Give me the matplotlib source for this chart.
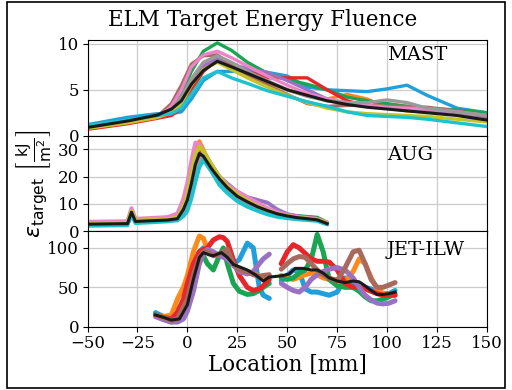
import matplotlib
matplotlib.use("Agg")
import matplotlib.pyplot as plt
from matplotlib.patches import Rectangle
import numpy as np

plt.rcParams["font.family"] = ["DejaVu Serif"]
plt.rcParams["mathtext.fontset"] = "dejavusans"

COLORS = ["#1f9fdb", "#ff8a1c", "#1aa552", "#e8262a", "#9a72c4",
          "#a9695e", "#ec84c8", "#9a9a9a", "#c4c426", "#1cc3cf"]

# ---------------- MAST ----------------
mast_x = [-50, -30, -15, -8, -3, 2, 8, 15, 22, 30, 40, 50, 60, 70, 80, 90, 100, 110, 120, 135, 150]
mast_series = [
    [1.2, 2.0, 2.4, 2.4, 2.6, 4.0, 6.0, 7.0, 7.0, 7.0, 6.9, 6.5, 5.3, 5.0, 4.9, 4.8, 5.1, 5.5, 4.4, 3.0, 2.5],  # blue
    [0.9, 1.5, 2.0, 2.6, 4.0, 6.0, 7.5, 8.3, 7.5, 6.7, 5.8, 5.0, 4.3, 4.0, 4.5, 4.0, 3.0, 2.7, 2.6, 2.4, 2.0],  # orange
    [1.0, 1.6, 2.2, 3.0, 4.5, 7.0, 9.2, 10.1, 9.3, 8.0, 6.8, 6.1, 5.6, 5.0, 4.2, 3.8, 3.5, 3.2, 3.0, 2.8, 2.5],  # green
    [0.7, 1.3, 1.9, 2.2, 3.0, 5.0, 7.0, 8.3, 7.8, 7.0, 6.3, 6.3, 6.3, 5.0, 3.8, 3.2, 3.0, 2.9, 2.7, 2.4, 2.1],  # red
    [1.0, 1.6, 2.1, 2.6, 3.8, 6.0, 7.6, 8.4, 7.8, 7.3, 6.9, 6.0, 5.0, 4.0, 3.5, 3.2, 3.0, 2.8, 2.7, 2.4, 2.0],  # purple
    [0.9, 1.5, 2.1, 3.5, 5.5, 7.8, 8.7, 8.8, 7.7, 6.5, 5.5, 4.5, 3.5, 3.2, 3.3, 3.3, 3.2, 3.2, 3.1, 2.7, 2.1],  # brown
    [0.9, 1.5, 2.0, 3.2, 5.0, 7.5, 8.8, 9.2, 8.5, 7.6, 6.5, 5.5, 4.6, 4.0, 3.6, 3.3, 3.1, 3.0, 2.9, 2.6, 2.2],  # pink
    [1.0, 1.6, 2.1, 2.8, 4.2, 6.2, 8.0, 8.7, 8.0, 7.0, 6.0, 5.0, 4.3, 3.8, 3.6, 3.6, 3.9, 3.6, 3.0, 2.6, 2.2],  # gray
    [0.8, 1.4, 2.0, 2.5, 3.5, 5.5, 7.2, 8.0, 7.2, 6.3, 5.3, 4.4, 3.6, 3.0, 2.6, 2.4, 2.3, 2.2, 2.1, 1.8, 1.5],  # olive
    [1.1, 1.7, 2.2, 2.4, 3.0, 4.5, 6.3, 7.0, 6.3, 5.7, 4.9, 4.3, 3.7, 3.2, 2.6, 2.2, 2.1, 2.0, 1.8, 1.4, 1.0],  # cyan
]
mast_mean = [0.9, 1.6, 2.25, 2.9, 3.8, 5.6, 7.1, 8.1, 7.5, 6.8, 5.9, 5.0, 4.4, 3.8, 3.4, 3.1, 2.9, 2.7, 2.5, 2.2, 1.7]

# ---------------- AUG ----------------
aug_x = [-50, -40, -30, -28, -26, -20, -10, -5, -2, 0, 2, 4, 6, 8, 12, 16, 20, 25, 30, 35, 40, 45, 50, 55, 60, 65, 70]
aug_series = [
    [2.6, 2.7, 2.8, 7.5, 3.7, 3.9, 4.2, 4.8, 7.5, 11, 17, 24, 28, 27.5, 23, 18.5, 15.5, 12.5, 10.5, 8.8, 7.3, 6.2, 5.5, 5.0, 4.6, 4.3, 2.8],
    [2.9, 3.0, 3.1, 8.0, 3.9, 4.1, 4.4, 5.2, 10, 16, 24, 31, 33, 30, 24, 19.5, 16.5, 13.5, 11.5, 9.5, 8.0, 6.8, 6.0, 5.4, 5.0, 4.6, 3.0],
    [2.7, 2.8, 2.9, 7.2, 3.8, 4.0, 4.3, 4.9, 8.5, 12.5, 19, 26, 29.5, 29, 24.5, 20, 17, 13.5, 11.3, 9.5, 8.0, 6.9, 6.1, 5.6, 5.3, 5.0, 3.2],
    [2.5, 2.6, 2.7, 6.8, 3.6, 3.8, 4.1, 4.6, 8.0, 11.5, 18, 25, 29, 28, 23.5, 19, 16, 12.8, 10.5, 8.7, 7.2, 6.2, 5.5, 5.1, 4.8, 4.4, 2.9],
    [2.6, 2.7, 2.8, 7.0, 3.7, 3.9, 4.2, 4.7, 7.8, 11, 17.5, 24.5, 28.5, 28, 24, 20, 17.5, 14.5, 12.5, 11.5, 10.5, 8.0, 6.3, 5.5, 5.0, 4.5, 3.0],
    [2.7, 2.8, 2.9, 7.0, 3.8, 4.0, 4.3, 4.8, 8.0, 12, 18, 25, 28.5, 27.5, 23, 18.5, 15.5, 12.5, 10.5, 8.6, 7.3, 6.3, 5.8, 5.3, 5.0, 4.6, 3.0],
    [3.5, 3.6, 3.7, 8.5, 4.6, 4.8, 5.2, 6.5, 12, 18, 26, 32.5, 32, 29, 24.5, 20, 17, 14.5, 12.5, 10.5, 8.5, 7.0, 6.0, 5.3, 4.9, 4.5, 3.2],
    [2.4, 2.5, 2.6, 6.5, 3.4, 3.6, 3.9, 4.3, 6.5, 9.5, 15, 21.5, 26, 27, 22, 17.5, 14.5, 11.5, 9.5, 7.8, 6.5, 5.6, 5.0, 4.6, 4.3, 4.0, 2.6],
    [2.8, 2.9, 3.0, 7.5, 3.9, 4.1, 4.4, 5.0, 9.0, 13.5, 21, 28, 31, 29.5, 24.5, 20, 16.5, 13.5, 11.2, 9.2, 7.6, 6.4, 5.6, 5.1, 4.7, 4.3, 2.9],
    [2.0, 2.1, 2.2, 6.0, 3.0, 3.2, 3.6, 4.0, 5.5, 7.5, 12, 18, 23.5, 26, 22, 17, 14, 11, 9.0, 7.5, 6.2, 5.3, 4.8, 4.4, 4.1, 3.8, 2.5],
]
aug_mean = [2.6, 2.7, 2.8, 7.0, 3.6, 3.8, 4.1, 4.6, 8.0, 11.5, 17.5, 24.5, 28.5, 27.5, 23.0, 19.2, 16.0, 12.8, 10.8, 9.0, 7.6, 6.4, 5.6, 5.0, 4.6, 4.2, 2.8]

# ---------------- JET-ILW ----------------
nan = np.nan
jet_x = [-16, -12, -8, -5, -2, 0, 3, 6, 8, 10, 13, 16, 18, 20, 23, 26, 30, 33, 36, 38, 41, nan,
         47, 50, 53, 56, 59, 62, 65, 68, 71, 75, 79, 83, 86, 89, 92, 95, 98, 101, 104]
jet_series = [
    [18, 13, 12, 22, 30, 40, 70, 95, 100, 98, 92, 90, 92, 90, 80, 85, 106, 100, 50, 40, 36, nan,
     58, 65, 72, 70, 48, 44, 44, 42, 40, 44, 62, 55, 50, 50, 48, 45, 42, 42, 46],
    [15, 13, 15, 35, 50, 65, 95, 115, 112, 98, 92, 92, 90, 88, 78, 72, 70, 68, 64, 62, 64, nan,
     65, 62, 60, 63, 66, 68, 66, 62, 60, 60, 58, 70, 86, 80, 62, 48, 42, 40, 40],
    [15, 10, 6, 15, 28, 40, 70, 95, 90, 80, 72, 90, 100, 80, 55, 45, 41, 42, 46, 50, 55, nan,
     62, 60, 62, 68, 72, 85, 117, 95, 60, 52, 50, 50, 45, 38, 33, 33, 35, 38, 42],
    [15, 12, 10, 18, 35, 55, 80, 95, 98, 100, 110, 114, 113, 108, 85, 65, 50, 46, 48, 52, 60, nan,
     80, 95, 104, 100, 93, 86, 83, 83, 82, 72, 55, 50, 50, 48, 45, 42, 40, 40, 40],
    [13, 9, 6, 6, 10, 20, 45, 80, 92, 98, 95, 90, 88, 86, 78, 70, 67, 70, 80, 86, 92, nan,
     55, 50, 46, 44, 50, 60, 66, 70, 73, 75, 72, 62, 50, 40, 34, 30, 29, 30, 33],
    [15, 12, 8, 10, 25, 35, 65, 88, 95, 95, 90, 92, 95, 98, 80, 72, 70, 66, 64, 65, 66, nan,
     73, 80, 86, 89, 88, 80, 72, 66, 62, 58, 75, 95, 97, 80, 60, 50, 50, 53, 56],
]
jet_mean_x = [-16, -12, -8, -4, 0, 3, 6, 8, 11, 13, 17, 20, 23, 27, 30, 34, 38, 41, 45, 48, 51,
              54, 58, 62, 65, 68, 71, 75, 79, 83, 86, 89, 92, 95, 98, 101, 104]
jet_mean = [15, 12, 8.5, 10, 28, 60, 88, 94, 91, 90, 94, 88, 79, 75, 72, 66, 58, 63, 64, 65, 67,
            74, 74, 72, 72, 68, 62, 58, 56, 58, 57, 52, 46, 41, 41, 42, 44]

fig, axes = plt.subplots(3, 1, figsize=(5.12, 3.9), dpi=100, sharex=True)
fig.subplots_adjust(left=0.171, right=0.951, bottom=0.162, top=0.897, hspace=0)

panels = [
    (axes[0], mast_x, mast_series, mast_x, mast_mean, 2.4, "MAST", 8.8, (0, 10.4), [0, 5, 10]),
    (axes[1], aug_x, aug_series, aug_x, aug_mean, 2.8, "AUG", 27.8, (0, 35), [0, 10, 20, 30]),
    (axes[2], jet_x, jet_series, jet_mean_x, jet_mean, 3.6, "JET-ILW", 97, (0, 121), [0, 50, 100]),
]
for ax, xs, series, mx, mean, lw, name, ty, ylim, yt in panels:
    for i, ys in enumerate(series):
        ax.plot(xs, ys, color=COLORS[i], lw=lw, solid_capstyle="round", solid_joinstyle="round")
    ax.plot(mx, mean, color="#1a1a1a", lw=2.2, solid_joinstyle="round")
    ax.text(100, ty, name, fontsize=14, va="center", ha="left")
    ax.set_ylim(*ylim)
    ax.set_yticks(yt)
    ax.grid(True, color="#cccccc", lw=0.9)
    ax.set_axisbelow(True)
    ax.tick_params(labelsize=12, length=3.5, width=0.8, pad=2.5)

axes[2].set_xlim(-50, 150)
axes[2].set_xticks([-50, -25, 0, 25, 50, 75, 100, 125, 150])
axes[2].set_xlabel("Location [mm]", fontsize=15.5, labelpad=1)
axes[1].set_ylabel(r"$\varepsilon_{\mathrm{target}}\ \left[\frac{\mathrm{kJ}}{\mathrm{m}^2}\right]$",
                   fontsize=16, labelpad=3)
fig.suptitle("ELM Target Energy Fluence", fontsize=15.5, x=0.512, y=0.978)

fig.patches.append(Rectangle((0.014, 0.005), 0.972, 0.99, transform=fig.transFigure,
                             fill=False, ec="black", lw=1.2))

fig.savefig("out.png", dpi=100)
